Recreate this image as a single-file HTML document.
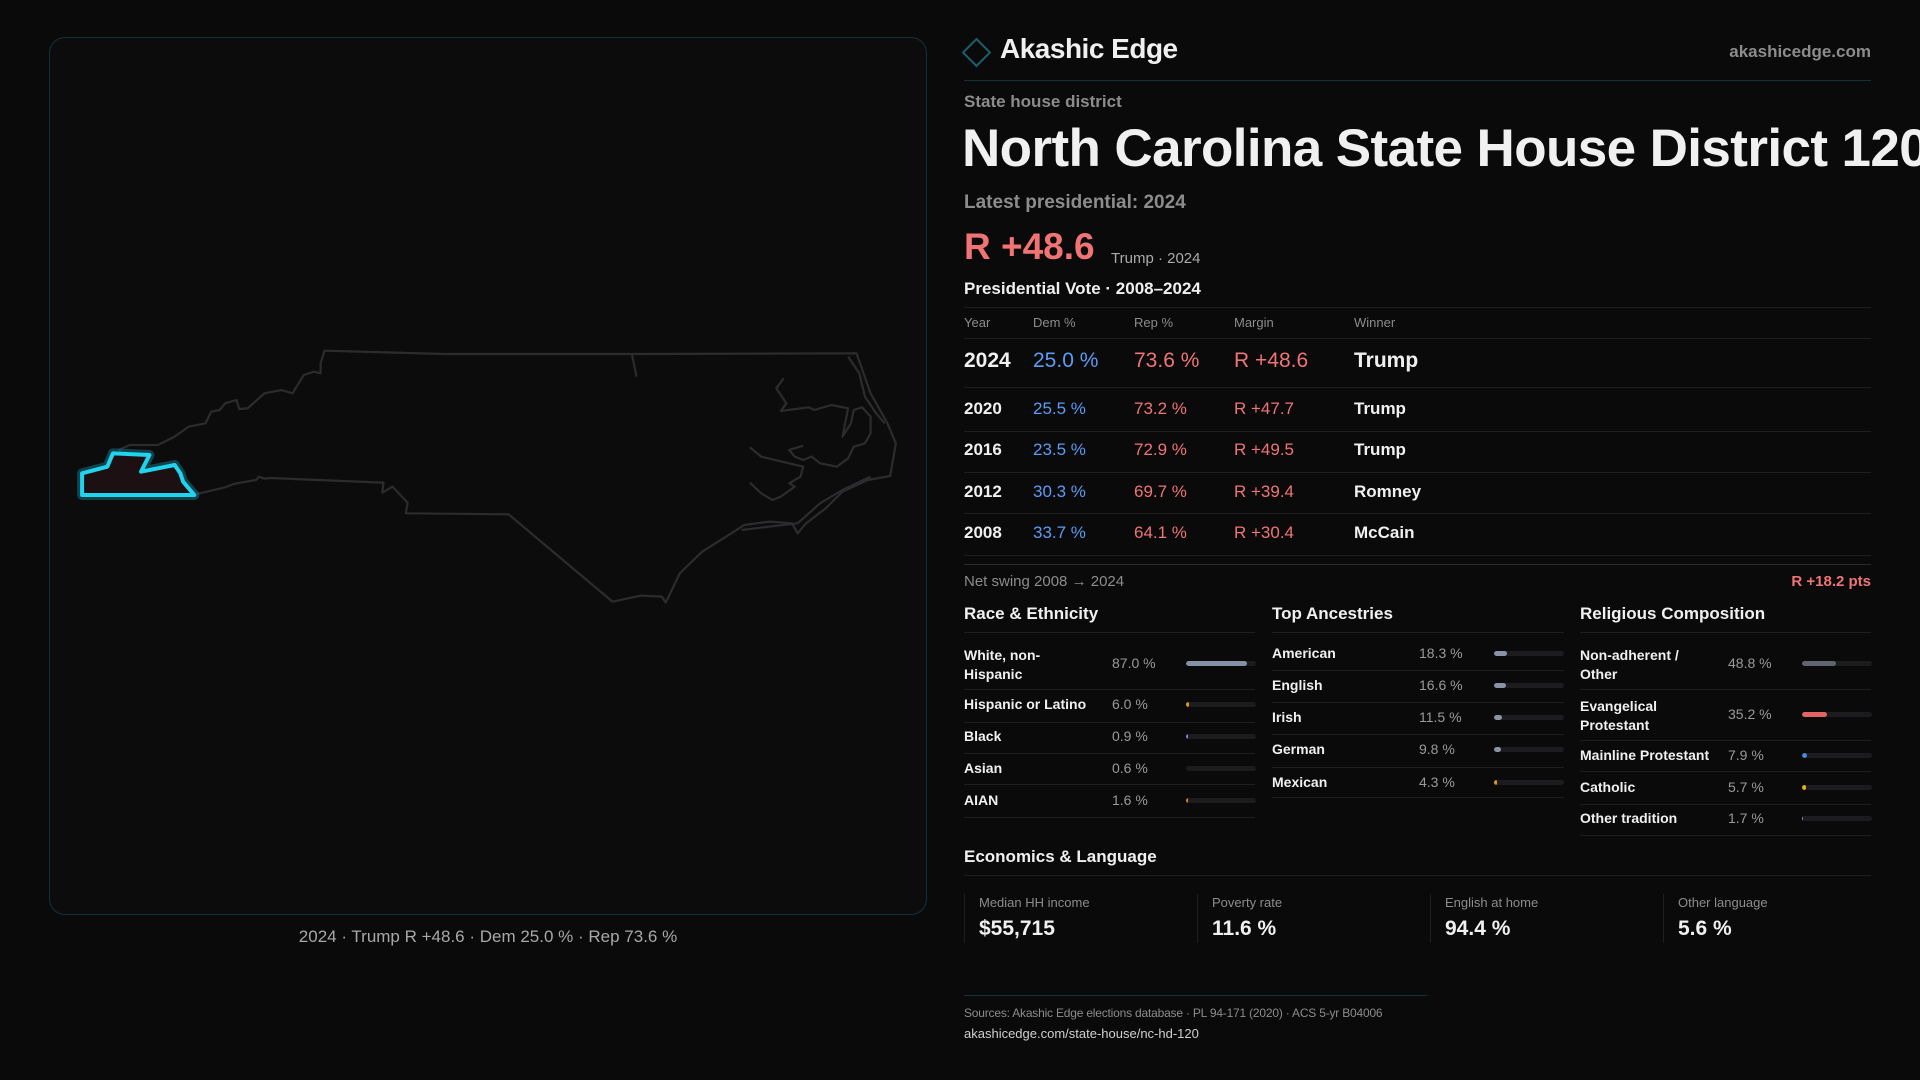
<!DOCTYPE html>
<html><head><meta charset="utf-8"><style>
*{margin:0;padding:0;box-sizing:border-box}
body{width:1920px;height:1080px;background:#0a0a0b;font-family:"Liberation Sans",sans-serif;color:#f0f0f0;position:relative;overflow:hidden}
.t{position:absolute;line-height:1;white-space:nowrap}
.r{position:absolute;height:1px;background:#1e1e21}
.g{color:#8c8c8c}.b{color:#5b9cf5}.red{color:#f07474}
.w{font-weight:bold}
.trk{position:absolute;height:5px;border-radius:3px;background:#1c1c1f;overflow:hidden}
.trk i{display:block;height:100%;border-radius:3px}
.lbl{font-size:14px;font-weight:bold;color:#f0f0f0}
.val{font-size:14px;color:#9a9a9a}
</style></head><body>
<div style="position:absolute;left:49px;top:37px;width:878px;height:878px;border:1px solid #123238;border-radius:16px;background:#0c0c0d"></div>
<svg style="position:absolute;left:0;top:0" width="1920" height="1080">
<g transform="translate(40,330) scale(0.5612,0.3333)" fill="none" stroke="#2c2c2e" stroke-width="2.2" stroke-linejoin="round">
<path vector-effect="non-scaling-stroke" d="M280,492 L330,472 345,462 385,450 390,440 400,446 410,444 612,458 610,488 628,470 655,518 652,550 835,553 1020,815 1070,797 1108,800 1115,818 1140,730 1180,665 1230,612 1255,585 1300,575 1340,580 1350,610 1365,580 1400,535 1430,485 1475,450 1515,438 1525,340 1510,280 1480,190 1455,70 1060,72 720,72 507,62 500,100 500,130 488,125 470,135 450,190 430,180 400,190 370,235 355,237 350,210 330,220 320,240 305,245 295,280 265,290 240,320 210,345 160,345 140,360"/>
<path vector-effect="non-scaling-stroke" d="M1055,75 L1063,140"/>
<path vector-effect="non-scaling-stroke" d="M1325,145 L1312,175 1330,220 1320,243 1370,232 1380,240 1410,225 1440,235 1430,320 1445,280 1450,240 1465,232 1480,260 1480,310 1470,340 1450,350 1440,385 1420,410 1390,400 1375,380 1360,390 1345,380 1335,360 1360,347"/>
<path vector-effect="non-scaling-stroke" d="M1265,352 L1285,380 1360,410 1355,440 1335,460 1345,470 1320,500 1305,510 1285,490 1265,458"/>
<path vector-effect="non-scaling-stroke" d="M1440,80 L1460,130 1470,200 1490,250 1505,280"/>
<path vector-effect="non-scaling-stroke" d="M1480,440 L1430,480 1390,520 1350,580 1250,600"/>
</g>
<g transform="translate(40,330) scale(0.5612,0.3333)">
<path vector-effect="non-scaling-stroke" d="M75,430 L75,495 275,495 255,455 250,430 240,405 180,425 195,375 130,370 120,410 Z" fill="#1c1012" stroke="#1aa8c0" stroke-opacity="0.35" stroke-width="10" stroke-linejoin="round"/>
<path vector-effect="non-scaling-stroke" d="M75,430 L75,495 275,495 255,455 250,430 240,405 180,425 195,375 130,370 120,410 Z" fill="#1c1012" stroke="#22d3ee" stroke-width="4" stroke-linejoin="round"/>
</g>
<rect x="967" y="43" width="19" height="19" transform="rotate(45 976.5 52.5)" fill="none" stroke="#1a5f6a" stroke-width="2"/>
</svg>
<div class="t" style="left:488px;top:928px;font-size:17px;color:#a8a8a8;transform:translateX(-50%)">2024 · Trump R +48.6 · Dem 25.0 % · Rep 73.6 %</div>

<div class="t" style="left:1000px;top:35px;font-size:28px;font-weight:bold;letter-spacing:-0.5px">Akashic Edge</div>
<div class="t g" style="left:1871px;top:43px;font-size:17px;font-weight:bold;transform:translateX(-100%)">akashicedge.com</div>
<div class="r" style="left:964px;top:80px;width:907px;background:#123238"></div>
<div class="t g" style="left:964px;top:93px;font-size:17px;font-weight:bold">State house district</div>
<div class="t w" style="left:962px;top:122px;font-size:53px;letter-spacing:-0.6px">North Carolina State House District 120</div>
<div class="t g" style="left:964px;top:193px;font-size:19px;font-weight:bold">Latest presidential: 2024</div>
<div class="t red" style="left:964px;top:228px;font-size:37px;font-weight:bold">R +48.6</div>
<div class="t g" style="left:1111px;top:251px;font-size:15px;color:#aaa">Trump · 2024</div>
<div class="t w" style="left:964px;top:280px;font-size:17px">Presidential Vote · 2008–2024</div>
<div class="r" style="left:964px;top:307px;width:907px"></div>
<div class="t g" style="left:964px;top:316px;font-size:13px">Year</div>
<div class="t g" style="left:1033px;top:316px;font-size:13px">Dem %</div>
<div class="t g" style="left:1134px;top:316px;font-size:13px">Rep %</div>
<div class="t g" style="left:1234px;top:316px;font-size:13px">Margin</div>
<div class="t g" style="left:1354px;top:316px;font-size:13px">Winner</div>
<div class="r" style="left:964px;top:338px;width:907px"></div>
<div class="t w" style="left:964px;top:350px;font-size:21px">2024</div>
<div class="t b" style="left:1033px;top:350px;font-size:21px">25.0 %</div>
<div class="t red" style="left:1134px;top:350px;font-size:21px">73.6 %</div>
<div class="t red" style="left:1234px;top:350px;font-size:21px">R +48.6</div>
<div class="t w" style="left:1354px;top:350px;font-size:21px">Trump</div>
<div class="r" style="left:964px;top:387px;width:907px"></div>
<div class="t w" style="left:964px;top:400px;font-size:17px">2020</div><div class="t b" style="left:1033px;top:400px;font-size:17px">25.5 %</div><div class="t red" style="left:1134px;top:400px;font-size:17px">73.2 %</div><div class="t red" style="left:1234px;top:400px;font-size:17px">R +47.7</div><div class="t w" style="left:1354px;top:400px;font-size:17px">Trump</div>
<div class="r" style="left:964px;top:431px;width:907px"></div>
<div class="t w" style="left:964px;top:441px;font-size:17px">2016</div><div class="t b" style="left:1033px;top:441px;font-size:17px">23.5 %</div><div class="t red" style="left:1134px;top:441px;font-size:17px">72.9 %</div><div class="t red" style="left:1234px;top:441px;font-size:17px">R +49.5</div><div class="t w" style="left:1354px;top:441px;font-size:17px">Trump</div>
<div class="r" style="left:964px;top:472px;width:907px"></div>
<div class="t w" style="left:964px;top:483px;font-size:17px">2012</div><div class="t b" style="left:1033px;top:483px;font-size:17px">30.3 %</div><div class="t red" style="left:1134px;top:483px;font-size:17px">69.7 %</div><div class="t red" style="left:1234px;top:483px;font-size:17px">R +39.4</div><div class="t w" style="left:1354px;top:483px;font-size:17px">Romney</div>
<div class="r" style="left:964px;top:513px;width:907px"></div>
<div class="t w" style="left:964px;top:524px;font-size:17px">2008</div><div class="t b" style="left:1033px;top:524px;font-size:17px">33.7 %</div><div class="t red" style="left:1134px;top:524px;font-size:17px">64.1 %</div><div class="t red" style="left:1234px;top:524px;font-size:17px">R +30.4</div><div class="t w" style="left:1354px;top:524px;font-size:17px">McCain</div>
<div class="r" style="left:964px;top:555px;width:907px"></div>
<div class="r" style="left:964px;top:564px;width:907px;background:#2a2a2d"></div>
<div class="t g" style="left:964px;top:574px;font-size:15px">Net swing 2008 → 2024</div>
<div class="t red" style="left:1871px;top:574px;font-size:15px;font-weight:bold;transform:translateX(-100%)">R +18.2 pts</div>

<div class="t w" style="left:964px;top:605px;font-size:17px">Race &amp; Ethnicity</div>
<div class="t w" style="left:1272px;top:605px;font-size:17px">Top Ancestries</div>
<div class="t w" style="left:1580px;top:605px;font-size:17px">Religious Composition</div>
<div class="r" style="left:964px;top:632px;width:291px"></div>
<div class="r" style="left:1272px;top:632px;width:292px"></div>
<div class="r" style="left:1580px;top:632px;width:291px"></div>

<div class="t lbl" style="left:964px;top:646px;line-height:19px;white-space:normal;width:100px">White, non-<br>Hispanic</div>
<div class="t val" style="left:1112px;top:656px">87.0 %</div>
<div class="trk" style="left:1186px;top:661px;width:70px"><i style="width:87%;background:#8592a6"></i></div>
<div class="r" style="left:964px;top:689px;width:291px"></div>
<div class="t lbl" style="left:964px;top:697px">Hispanic or Latino</div><div class="t val" style="left:1112px;top:697px">6.0 %</div>
<div class="trk" style="left:1186px;top:702px;width:70px"><i style="width:3px;background:#d99a1a"></i></div>
<div class="r" style="left:964px;top:722px;width:291px"></div>
<div class="t lbl" style="left:964px;top:729px">Black</div><div class="t val" style="left:1112px;top:729px">0.9 %</div>
<div class="trk" style="left:1186px;top:734px;width:70px"><i style="width:2px;background:#8a7ae0"></i></div>
<div class="r" style="left:964px;top:753px;width:291px"></div>
<div class="t lbl" style="left:964px;top:761px">Asian</div><div class="t val" style="left:1112px;top:761px">0.6 %</div>
<div class="trk" style="left:1186px;top:766px;width:70px"></div>
<div class="r" style="left:964px;top:784px;width:291px"></div>
<div class="t lbl" style="left:964px;top:793px">AIAN</div><div class="t val" style="left:1112px;top:793px">1.6 %</div>
<div class="trk" style="left:1186px;top:798px;width:70px"><i style="width:2px;background:#d9821a"></i></div>
<div class="r" style="left:964px;top:817px;width:291px"></div>

<div class="t lbl" style="left:1272px;top:646px">American</div><div class="t val" style="left:1419px;top:646px">18.3 %</div>
<div class="trk" style="left:1494px;top:651px;width:70px"><i style="width:18%;background:#8a94a6"></i></div>
<div class="r" style="left:1272px;top:670px;width:292px"></div>
<div class="t lbl" style="left:1272px;top:678px">English</div><div class="t val" style="left:1419px;top:678px">16.6 %</div>
<div class="trk" style="left:1494px;top:683px;width:70px"><i style="width:17%;background:#8a94a6"></i></div>
<div class="r" style="left:1272px;top:702px;width:292px"></div>
<div class="t lbl" style="left:1272px;top:710px">Irish</div><div class="t val" style="left:1419px;top:710px">11.5 %</div>
<div class="trk" style="left:1494px;top:715px;width:70px"><i style="width:11%;background:#8a94a6"></i></div>
<div class="r" style="left:1272px;top:734px;width:292px"></div>
<div class="t lbl" style="left:1272px;top:742px">German</div><div class="t val" style="left:1419px;top:742px">9.8 %</div>
<div class="trk" style="left:1494px;top:747px;width:70px"><i style="width:10%;background:#8a94a6"></i></div>
<div class="r" style="left:1272px;top:767px;width:292px"></div>
<div class="t lbl" style="left:1272px;top:775px">Mexican</div><div class="t val" style="left:1419px;top:775px">4.3 %</div>
<div class="trk" style="left:1494px;top:780px;width:70px"><i style="width:3px;background:#d99a1a"></i></div>
<div class="r" style="left:1272px;top:797px;width:292px"></div>

<div class="t lbl" style="left:1580px;top:646px;line-height:19px">Non-adherent /<br>Other</div>
<div class="t val" style="left:1728px;top:656px">48.8 %</div>
<div class="trk" style="left:1802px;top:661px;width:70px"><i style="width:49%;background:#5f6470"></i></div>
<div class="r" style="left:1580px;top:689px;width:291px"></div>
<div class="t lbl" style="left:1580px;top:697px;line-height:19px">Evangelical<br>Protestant</div>
<div class="t val" style="left:1728px;top:707px">35.2 %</div>
<div class="trk" style="left:1802px;top:712px;width:70px"><i style="width:35%;background:#e06666"></i></div>
<div class="r" style="left:1580px;top:740px;width:291px"></div>
<div class="t lbl" style="left:1580px;top:748px">Mainline Protestant</div><div class="t val" style="left:1728px;top:748px">7.9 %</div>
<div class="trk" style="left:1802px;top:753px;width:70px"><i style="width:5px;background:#4a88e0"></i></div>
<div class="r" style="left:1580px;top:771px;width:291px"></div>
<div class="t lbl" style="left:1580px;top:780px">Catholic</div><div class="t val" style="left:1728px;top:780px">5.7 %</div>
<div class="trk" style="left:1802px;top:785px;width:70px"><i style="width:4px;background:#e0b020"></i></div>
<div class="r" style="left:1580px;top:804px;width:291px"></div>
<div class="t lbl" style="left:1580px;top:811px">Other tradition</div><div class="t val" style="left:1728px;top:811px">1.7 %</div>
<div class="trk" style="left:1802px;top:816px;width:70px"><i style="width:1px;background:#8a94a6"></i></div>
<div class="r" style="left:1580px;top:835px;width:291px"></div>

<div class="t w" style="left:964px;top:848px;font-size:17px">Economics &amp; Language</div>
<div class="r" style="left:964px;top:875px;width:907px"></div>
<div class="r" style="left:964px;top:894px;width:1px;height:49px"></div>
<div class="r" style="left:1197px;top:894px;width:1px;height:49px"></div>
<div class="r" style="left:1430px;top:894px;width:1px;height:49px"></div>
<div class="r" style="left:1663px;top:894px;width:1px;height:49px"></div>
<div class="t g" style="left:979px;top:896px;font-size:13px">Median HH income</div>
<div class="t g" style="left:1212px;top:896px;font-size:13px">Poverty rate</div>
<div class="t g" style="left:1445px;top:896px;font-size:13px">English at home</div>
<div class="t g" style="left:1678px;top:896px;font-size:13px">Other language</div>
<div class="t w" style="left:979px;top:918px;font-size:21px">$55,715</div>
<div class="t w" style="left:1212px;top:918px;font-size:21px">11.6 %</div>
<div class="t w" style="left:1445px;top:918px;font-size:21px">94.4 %</div>
<div class="t w" style="left:1678px;top:918px;font-size:21px">5.6 %</div>

<div class="r" style="left:964px;top:995px;width:463px;background:#123238"></div>
<div class="t g" style="left:964px;top:1007px;font-size:12px;letter-spacing:-0.2px">Sources: Akashic Edge elections database · PL 94-171 (2020) · ACS 5-yr B04006</div>
<div class="t" style="left:964px;top:1027px;font-size:13px;color:#cfcfcf">akashicedge.com/state-house/nc-hd-120</div>
</body></html>
